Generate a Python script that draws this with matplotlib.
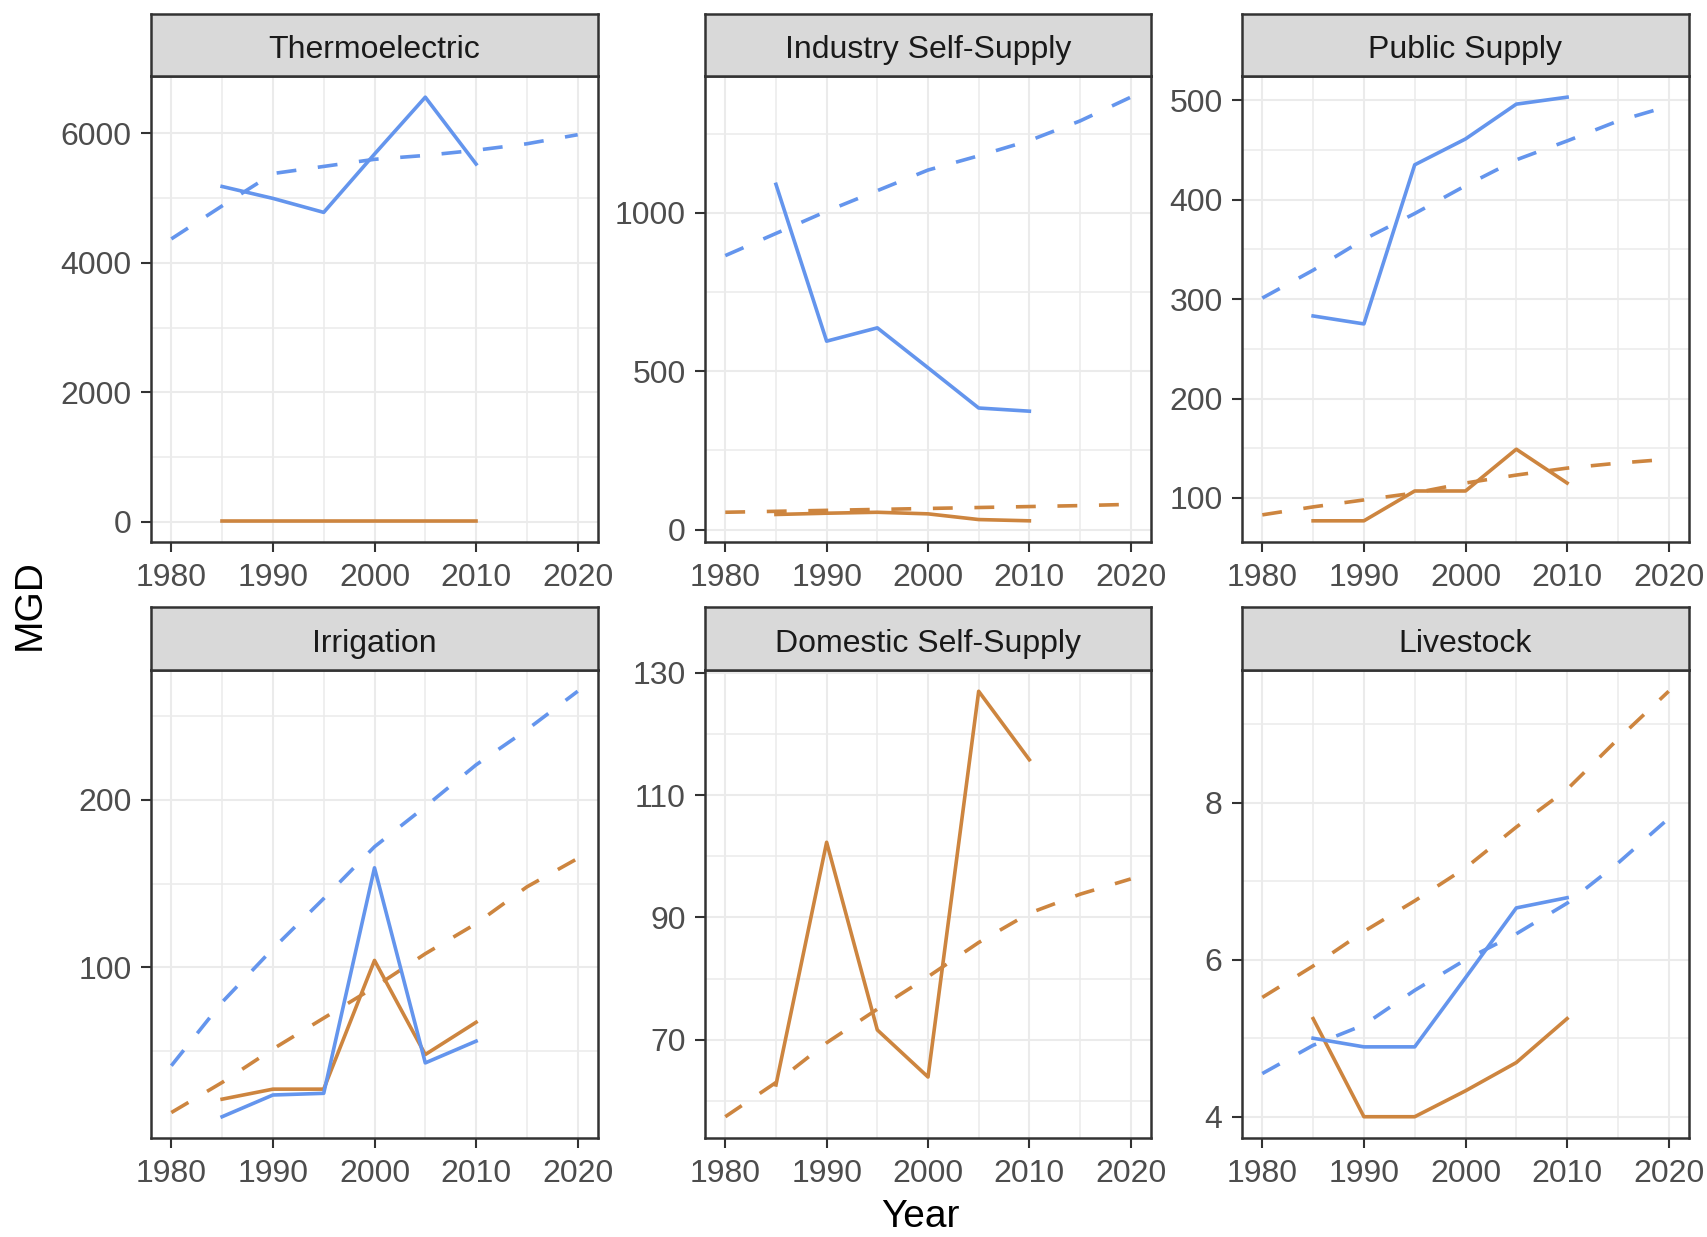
import matplotlib
matplotlib.use("Agg")
import matplotlib.pyplot as plt
from matplotlib.ticker import FixedLocator

plt.rcParams['font.family'] = ['Liberation Sans', 'DejaVu Sans']

# ---------------- data ----------------
hist_years = [1985, 1990, 1995, 2000, 2005, 2010]
proj_years = [1980, 1985, 1990, 1995, 2000, 2005, 2010, 2015, 2020]

panel_titles = ["Thermoelectric", "Industry Self-Supply", "Public Supply",
                "Irrigation", "Domestic Self-Supply", "Livestock"]

# Thermoelectric
thermo_blue_hist = [5180, 4996, 4780, 5681, 6560, 5527]
thermo_orange_hist = [14, 14, 14, 14, 14, 14]
thermo_blue_proj = [4370, 4880, 5380, 5490, 5600, 5660, 5740, 5840, 5980]
thermo_orange_proj = None

# Industry Self-Supply
ind_blue_hist = [1090, 595, 637, 511, 384, 374]
ind_orange_hist = [48, 52, 55, 50, 32, 28]
ind_blue_proj = [865, 935, 1005, 1070, 1135, 1180, 1228, 1290, 1365]
ind_orange_proj = [55, 58, 61, 64, 67, 70, 73, 76, 80]

# Public Supply
pub_blue_hist = [283, 275, 435, 461, 496, 503]
pub_orange_hist = [77, 77, 107, 107, 149, 115]
pub_blue_proj = [301, 329, 360, 386, 414, 440, 459, 479, 494]
pub_orange_proj = [83, 91, 98, 105, 115, 123, 130, 135, 139]

# Irrigation
irr_blue_hist = [10.5, 23.5, 24.5, 159.4, 42.7, 55.7]
irr_orange_hist = [21, 27, 27, 104, 47.7, 67]
irr_blue_proj = [41, 79, 111, 141, 172, 196, 221, 242, 265]
irr_orange_proj = [13, 31, 51, 69.5, 88, 108, 126, 148, 165]

# Domestic Self-Supply
dom_blue_hist = None
dom_orange_hist = [62.6, 102.3, 71.6, 63.9, 127.0, 115.8]
dom_blue_proj = None
dom_orange_proj = [57.4, 63, 69.5, 75, 80.3, 85.9, 90.7, 93.8, 96.3]

# Livestock
live_blue_hist = [5.0, 4.89, 4.89, 5.77, 6.66, 6.79]
live_orange_hist = [5.25, 4.0, 4.0, 4.33, 4.69, 5.25]
live_blue_proj = [4.55, 4.91, 5.17, 5.61, 6.0, 6.33, 6.72, 7.23, 7.8]
live_orange_proj = [5.52, 5.92, 6.36, 6.75, 7.17, 7.69, 8.17, 8.81, 9.42]

x_ticks = [1980, 1990, 2000, 2010, 2020]
x_minor = [1985, 1995, 2005, 2015]

y_major = [[0, 2000, 4000, 6000], [0, 500, 1000], [100, 200, 300, 400, 500],
           [100, 200], [70, 90, 110, 130], [4, 6, 8]]
y_minor = [[1000, 3000, 5000], [250, 750, 1250], [150, 250, 350, 450],
           [50, 150, 250], [60, 80, 100, 120], [5, 7, 9]]

panels = [
    (thermo_blue_hist, thermo_orange_hist, thermo_blue_proj, thermo_orange_proj),
    (ind_blue_hist, ind_orange_hist, ind_blue_proj, ind_orange_proj),
    (pub_blue_hist, pub_orange_hist, pub_blue_proj, pub_orange_proj),
    (irr_blue_hist, irr_orange_hist, irr_blue_proj, irr_orange_proj),
    (dom_blue_hist, dom_orange_hist, dom_blue_proj, dom_orange_proj),
    (live_blue_hist, live_orange_hist, live_blue_proj, live_orange_proj),
]

# ---------------- style ----------------
BLUE = "#6495ED"
ORANGE = "#CD853F"
W, H = 1708, 1237
fig = plt.figure(figsize=(W / 100, H / 100), dpi=100)
fig.patch.set_facecolor("white")

col_x = [(151, 598), (705, 1151), (1242, 1689)]
row_y = [(14, 76, 542), (607, 670, 1138)]  # strip top, plot top, plot bottom

def rect(x0, x1, y0, y1):
    return [x0 / W, 1 - y1 / H, (x1 - x0) / W, (y1 - y0) / H]

LW = 2.6
DASH = (0, (5.5, 6.0))
FS = 23

for i, (title, data) in enumerate(zip(panel_titles, panels)):
    r, c = divmod(i, 3)
    x0, x1 = col_x[c]
    st, pt, pb = row_y[r]
    ax = fig.add_axes(rect(x0, x1, pt, pb))
    sax = fig.add_axes(rect(x0, x1, st, pt))

    bh, oh, bp, op = data
    if op is not None:
        ax.plot(proj_years, op, color=ORANGE, lw=LW, ls=DASH, zorder=3)
    if bp is not None:
        ax.plot(proj_years, bp, color=BLUE, lw=LW, ls=DASH, zorder=3)
    if oh is not None:
        ax.plot(hist_years, oh, color=ORANGE, lw=LW, zorder=4)
    if bh is not None:
        ax.plot(hist_years, bh, color=BLUE, lw=LW, zorder=5)

    ax.margins(y=0.05)
    ax.set_xlim(1978, 2022)
    ax.xaxis.set_major_locator(FixedLocator(x_ticks))
    ax.xaxis.set_minor_locator(FixedLocator(x_minor))
    ax.yaxis.set_major_locator(FixedLocator(y_major[i]))
    ax.yaxis.set_minor_locator(FixedLocator(y_minor[i]))
    ax.grid(which="major", color="#EBEBEB", lw=1.5, zorder=0)
    ax.grid(which="minor", color="#EBEBEB", lw=1.1, zorder=0)
    ax.set_axisbelow(True)
    ax.tick_params(which="major", direction="out", length=7, width=1.5,
                   color="#333333", labelsize=FS, labelcolor="#4D4D4D")
    ax.tick_params(axis="x", pad=8)
    ax.tick_params(axis="y", pad=7)
    ax.tick_params(which="minor", length=0)
    for s in ax.spines.values():
        s.set_color("#333333")
        s.set_linewidth(1.8)
        s.set_zorder(6)

    sax.set_facecolor("#D9D9D9")
    sax.set_xticks([])
    sax.set_yticks([])
    for s in sax.spines.values():
        s.set_color("#333333")
        s.set_linewidth(1.8)
    sax.text(0.5, 0.42, title, ha="center", va="center", fontsize=FS,
             color="#1A1A1A", transform=sax.transAxes)

fig.text(30 / W, 1 - 605 / H, "MGD", rotation=90, ha="center", va="center",
         fontsize=28, color="black")
fig.text(920 / W, 1 - 1217 / H, "Year", ha="center", va="center",
         fontsize=28, color="black")

fig.savefig("out.png", dpi=100, facecolor="white")
